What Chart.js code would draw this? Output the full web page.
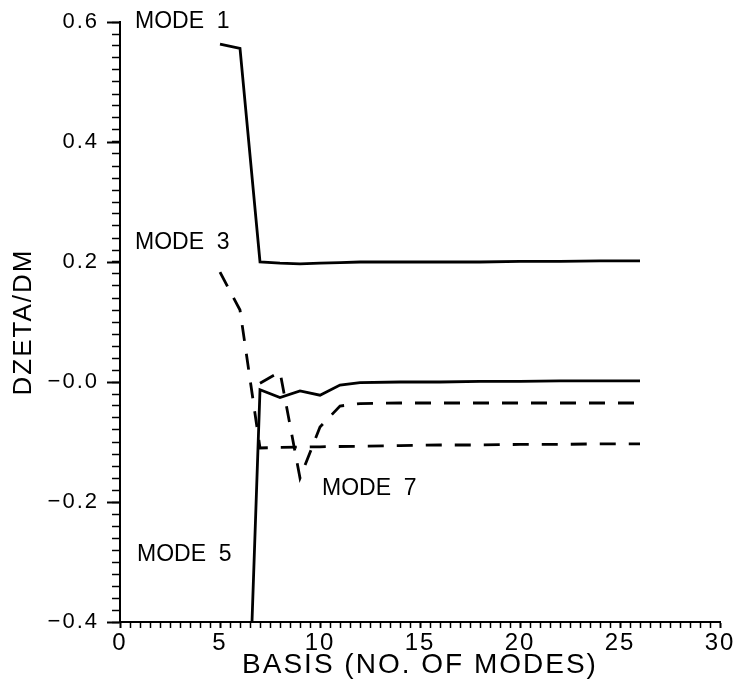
<!DOCTYPE html>
<html>
<head>
<meta charset="utf-8">
<script src="https://cdn.jsdelivr.net/npm/chart.js@4.4.1/dist/chart.umd.min.js"></script>
<style>
  body { margin: 0; background: #fff; }
</style>
</head>
<body>
<canvas id="zetaChart" width="740" height="690"></canvas>
<script>
// basis size (number of modes) and dzeta/dm
const mode1Basis = [5, 6, 7, 8, 9, 10, 11, 12, 14, 16, 18, 20, 22, 24, 26];
const mode1Values = [0.563, 0.556, 0.200, 0.198, 0.197, 0.198, 0.199, 0.200, 0.200, 0.200, 0.200, 0.201, 0.201, 0.202, 0.202];

const mode3Basis = [5, 6, 7, 8, 10, 12, 14, 16, 18, 20, 22, 24, 26];
const mode3Values = [0.183, 0.120, -0.110, -0.109, -0.108, -0.107, -0.106, -0.105, -0.105, -0.104, -0.104, -0.103, -0.103];

const mode5Basis = [6, 7, 8, 9, 10, 11, 12, 14, 16, 18, 20, 22, 24, 26];
const mode5Values = [-0.98, -0.013, -0.026, -0.015, -0.022, -0.005, -0.001, 0.000, 0.000, 0.001, 0.001, 0.002, 0.002, 0.002];

const mode7Basis = [7, 8, 9, 10, 11, 12, 14, 16, 18, 20, 22, 24, 26];
const mode7Values = [-0.002, 0.017, -0.160, -0.075, -0.040, -0.036, -0.035, -0.035, -0.035, -0.035, -0.035, -0.035, -0.035];

const xTickLabels = ['0', '5', '10', '15', '20', '25', '30'];
const yTickLabels = ['\u22120.4', '\u22120.2', '\u22120.0', '0.2', '0.4', '0.6'];
const modeNames = ['MODE  1', 'MODE  3', 'MODE  5', 'MODE  7'];

const FONT = "'Liberation Sans Narrow', 'Liberation Sans', Arial, sans-serif";

function points(xs, ys) {
    return xs.map((x, i) => ({x: x, y: ys[i]}));
}

// where the mode names sit, in data units
const namePlaces = [
    {x: 0.75, y: 0.600},
    {x: 0.75, y: 0.232},
    {x: 0.85, y: -0.287},
    {x: 10.1, y: -0.177}
];

const modeLabelsPlugin = {
    id: 'modeLabels',
    beforeDraw(chart) {
        chart.ctx.letterSpacing = '2px';
    },
    afterDraw(chart) {
        const ctx = chart.ctx;
        const xs = chart.scales.x, ys = chart.scales.y;
        ctx.save();
        // longer marks at the labelled y values
        ctx.strokeStyle = '#000';
        ctx.lineWidth = 2;
        ctx.beginPath();
        yTickLabels.forEach((t, i) => {
            const py = Math.round(ys.getPixelForValue(-0.4 + 0.2 * i)) + 0.5;
            ctx.moveTo(ys.right - 13, py);
            ctx.lineTo(ys.right, py);
        });
        ctx.stroke();

        ctx.letterSpacing = '0px';
        ctx.font = '23px ' + FONT;
        ctx.fillStyle = '#000';
        ctx.textAlign = 'left';
        ctx.textBaseline = 'middle';
        modeNames.forEach((name, i) => {
            ctx.fillText(name, xs.getPixelForValue(namePlaces[i].x), ys.getPixelForValue(namePlaces[i].y));
        });
        ctx.restore();
    }
};

function lineSet(label, xs, ys, dashed) {
    return {
        label: label,
        data: points(xs, ys),
        borderColor: '#000',
        borderWidth: 2.8,
        borderDash: dashed ? [16, 13] : [],
        pointRadius: 0,
        tension: 0,
        fill: false
    };
}

const ctx = document.getElementById('zetaChart').getContext('2d');
new Chart(ctx, {
    type: 'line',
    data: {
        datasets: [
            lineSet(modeNames[0], mode1Basis, mode1Values, false),
            lineSet(modeNames[1], mode3Basis, mode3Values, true),
            lineSet(modeNames[2], mode5Basis, mode5Values, false),
            lineSet(modeNames[3], mode7Basis, mode7Values, true)
        ]
    },
    options: {
        responsive: false,
        animation: false,
        layout: {padding: {top: 22, right: 20, left: 0, bottom: 0}},
        plugins: {
            legend: {display: false},
            tooltip: {enabled: false}
        },
        scales: {
            x: {
                type: 'linear',
                min: 0,
                max: 30,
                border: {display: true, color: '#000', width: 2},
                grid: {
                    drawOnChartArea: false,
                    drawTicks: true,
                    tickLength: 6,
                    tickColor: '#000',
                    tickWidth: c => (c.tick && c.tick.value % 5 === 0) ? 2 : 1.5
                },
                ticks: {
                    stepSize: 0.5,
                    autoSkip: false,
                    maxTicksLimit: 100,
                    maxRotation: 0,
                    padding: 1,
                    color: '#000',
                    font: {family: FONT, size: 24},
                    callback: v => v % 5 === 0 ? xTickLabels[v / 5] : ''
                },
                title: {
                    display: true,
                    text: 'BASIS (NO. OF MODES)',
                    color: '#000',
                    font: {family: FONT, size: 28, lineHeight: 1},
                    padding: {bottom: 11}
                },
                afterFit(scale) { scale.height = 68; }
            },
            y: {
                type: 'linear',
                min: -0.4,
                max: 0.6,
                border: {display: true, color: '#000', width: 2},
                grid: {
                    drawOnChartArea: false,
                    drawTicks: true,
                    tickLength: 8,
                    tickColor: '#000',
                    tickWidth: 1.5
                },
                ticks: {
                    stepSize: 0.02,
                    autoSkip: false,
                    maxTicksLimit: 100,
                    padding: 13,
                    color: '#000',
                    font: {family: FONT, size: 22},
                    callback: v => {
                        const k = Math.round(v * 100);
                        return k % 20 === 0 ? yTickLabels[(k + 40) / 20] : '';
                    }
                },
                title: {
                    display: true,
                    text: 'DZETA/DM',
                    color: '#000',
                    font: {family: FONT, size: 26, lineHeight: 1},
                    padding: {top: 11}
                },
                afterFit(scale) {
                    scale.width = 120;
                    scale.paddingTop = 0;
                    scale.paddingBottom = 0;
                }
            }
        }
    },
    plugins: [modeLabelsPlugin]
});
</script>
</body>
</html>
